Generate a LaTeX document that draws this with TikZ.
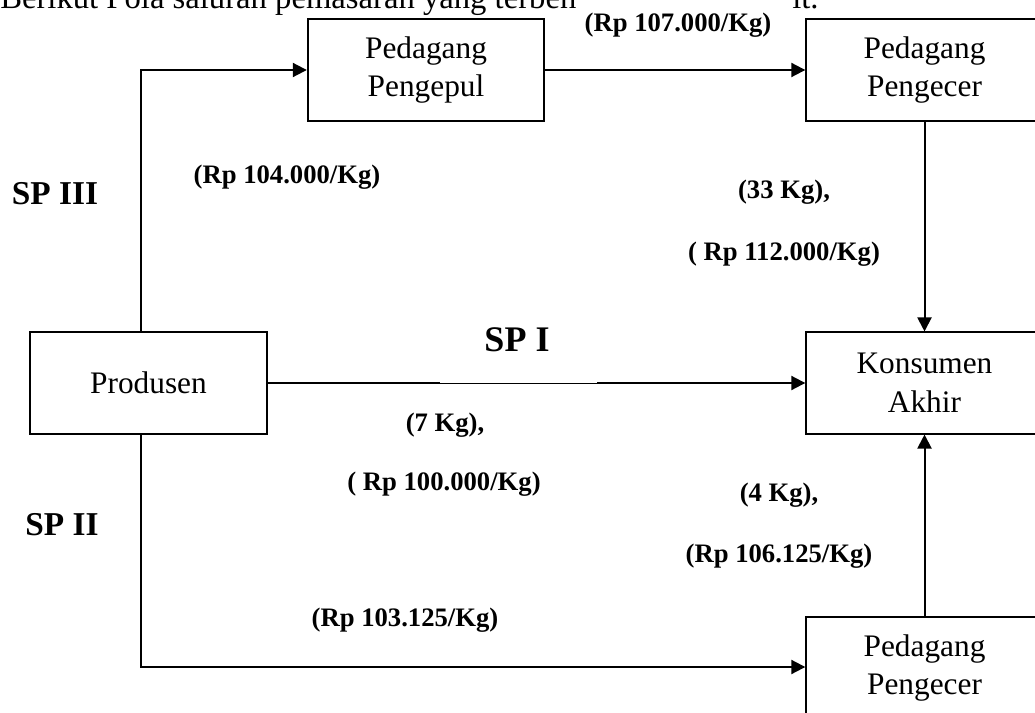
\documentclass[tikz,border=0pt]{standalone}
\usepackage{fontspec}
\setmainfont{Liberation Serif}
\usetikzlibrary{arrows.meta}
\tikzset{
  box/.style={draw, line width=1.3pt, minimum width=177.5pt, minimum height=76pt,
    align=center, font=\fontsize{23.5}{29}\selectfont, inner sep=0pt},
  conn/.style={line width=1.5pt},
  thinconn/.style={line width=0.6pt},
  arr/.style={line width=1.5pt, -{Triangle[length=10.5pt,width=10.5pt]}},
  lbl/.style={font=\bfseries\fontsize{20}{24}\selectfont, inner sep=0pt},
  splbl/.style={font=\bfseries\fontsize{25}{30}\selectfont, inner sep=0pt},
  intro/.style={font=\fontsize{24.5}{29}\selectfont, inner sep=0pt, anchor=base west}
}
\begin{document}
\begin{tikzpicture}[x=0.75pt,y=-0.75pt]
\useasboundingbox (0,0) rectangle (1035,713);
\clip (0,0) rectangle (1035,713);
% intro text (partly cut off, as in the reference)
\node[intro] (introA) at (0,9) {Berikut Pola saluran pemasaran yang terben};
\node[intro] (introB) at (792,9) {it.};
% boxes
\node[box] (pengepul) at (426,70) {Pedagang\\Pengepul};
\node[box] (pengecerA) at (924.5,70) {Pedagang\\Pengecer};
\node[box] (produsen) at (148.5,383) {Produsen};
\node[box] (konsumen) at (924.5,383) {Konsumen\\Akhir};
\node[box] (pengecerB) at (924.5,668) {Pedagang\\Pengecer};
% helper coordinates
\coordinate (cIII) at (141,70);
\coordinate (cII) at (141,667);
\coordinate (sA) at (440,383);
\coordinate (sB) at (597,383);
% connectors
\draw[arr] (produsen.north -| cIII) -- (cIII) -- (pengepul.west);
\draw[arr] (pengepul) -- (pengecerA);
\draw[arr] (pengecerA) -- (konsumen);
\draw[conn] (produsen.east) -- (sA);
\draw[thinconn] (sA) -- (sB);
\draw[arr] (sB) -- (konsumen.west);
\draw[arr] (produsen.south -| cII) -- (cII) -- (pengecerB.west |- cII);
\draw[arr] (pengecerB) -- (konsumen);
% labels
\node[lbl] (l107) at (678,25) {(Rp 107.000/Kg)};
\node[lbl] (l104) at (287,177) {(Rp 104.000/Kg)};
\node[splbl] (spIII) at (55,194) {SP III};
\node[lbl] (l33) at (784,192) {(33 Kg),};
\node[lbl] (l112) at (784,254) {( Rp 112.000/Kg)};
\node[font=\bfseries\fontsize{27}{32}\selectfont, inner sep=0pt] (spI) at (517,340) {SP I};
\node[lbl] (l7) at (445,425) {(7 Kg),};
\node[lbl] (l100) at (444,484) {( Rp 100.000/Kg)};
\node[splbl] (spII) at (62,525) {SP II};
\node[lbl] (l4) at (779,495) {(4 Kg),};
\node[lbl] (l106) at (779,556) {(Rp 106.125/Kg)};
\node[lbl] (l103) at (405,620) {(Rp 103.125/Kg)};
\end{tikzpicture}
\end{document}
